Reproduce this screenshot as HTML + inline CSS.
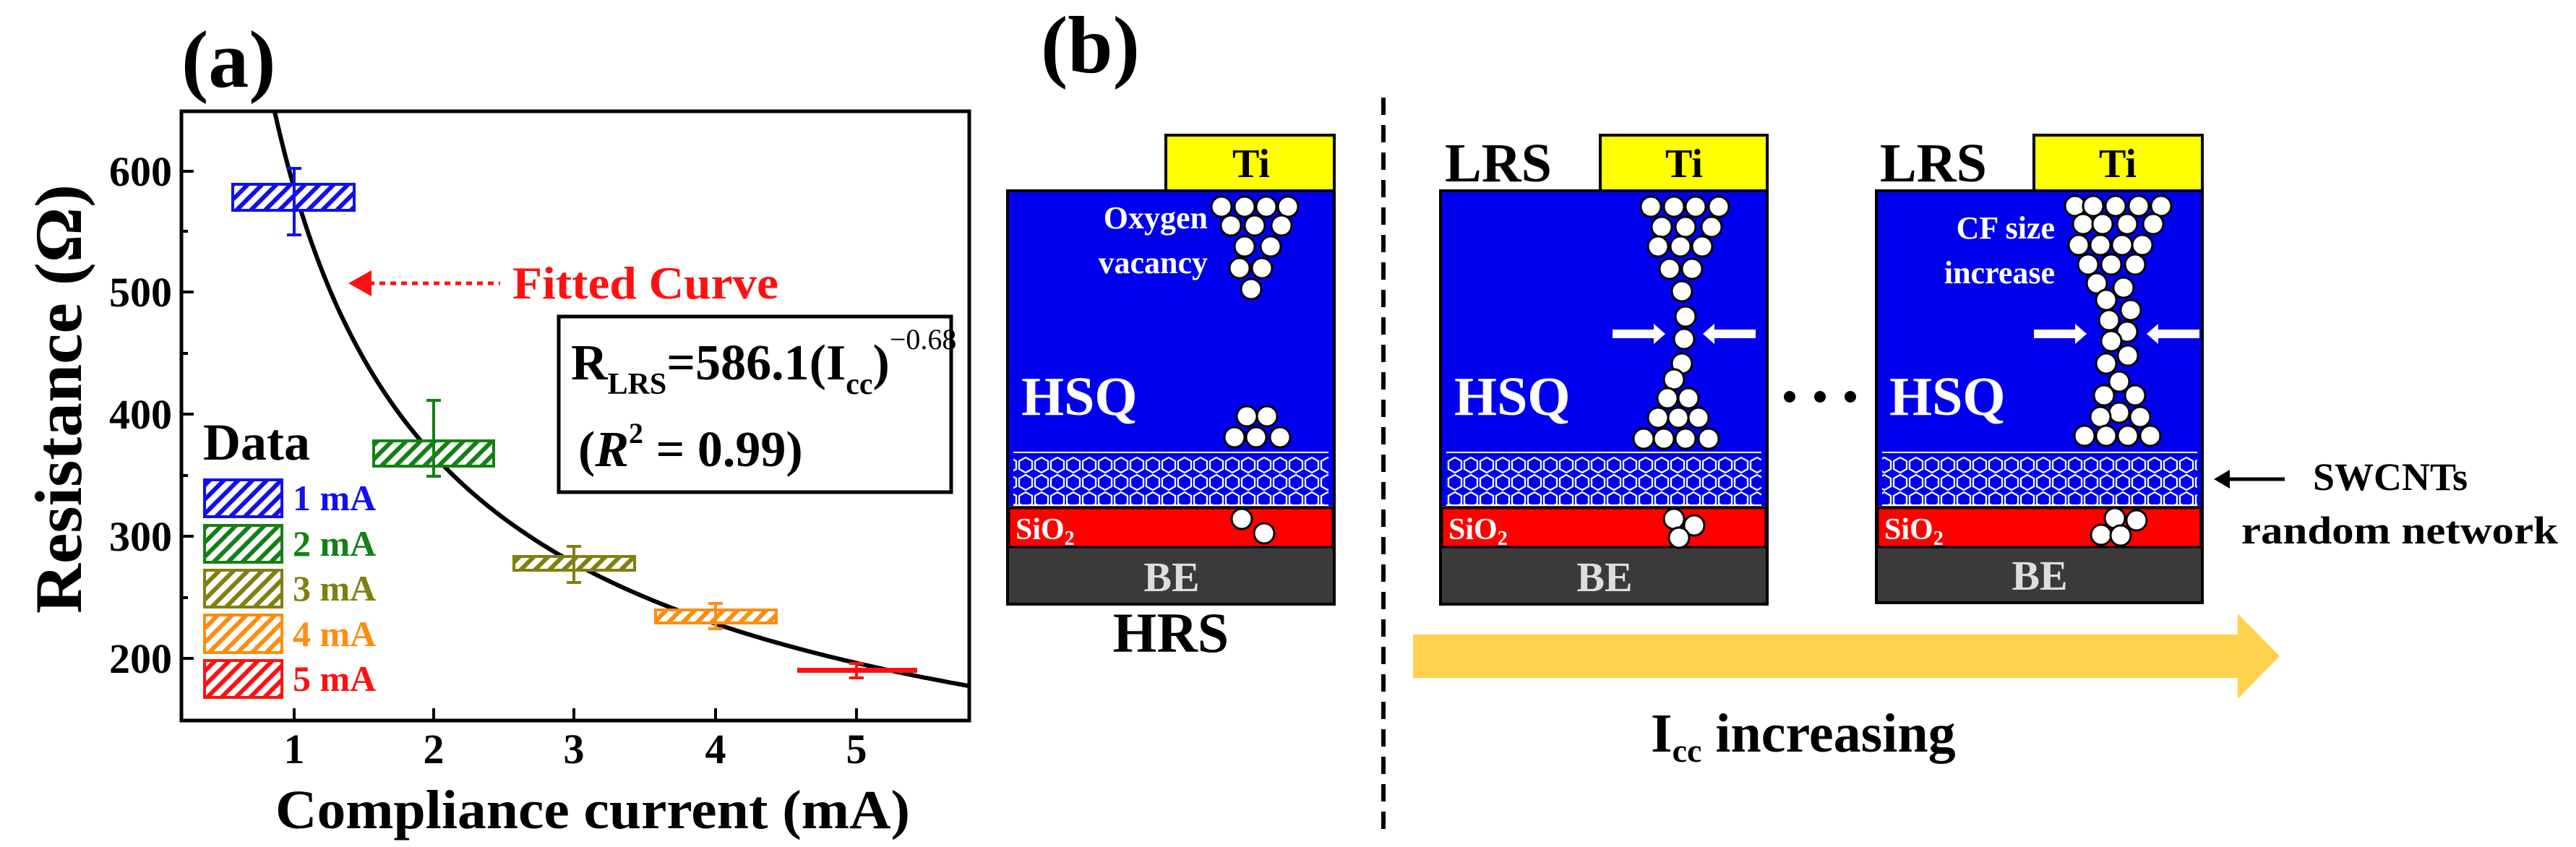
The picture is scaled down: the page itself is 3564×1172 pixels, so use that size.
<!DOCTYPE html>
<html><head><meta charset="utf-8"><style>
html,body{margin:0;padding:0;background:#fff;}
svg{display:block;font-family:"Liberation Serif",serif;font-weight:bold;}
</style></head><body>
<svg width="3564" height="1172" viewBox="0 0 3564 1172" xmlns="http://www.w3.org/2000/svg">
<defs>
<pattern id="hb" width="14" height="14" patternUnits="userSpaceOnUse" patternTransform="rotate(45)"><rect width="14" height="14" fill="#fff"/><rect width="6" height="14" fill="#1010ee"/></pattern>
<pattern id="hg" width="14" height="14" patternUnits="userSpaceOnUse" patternTransform="rotate(45)"><rect width="14" height="14" fill="#fff"/><rect width="6" height="14" fill="#148014"/></pattern>
<pattern id="ho" width="14" height="14" patternUnits="userSpaceOnUse" patternTransform="rotate(45)"><rect width="14" height="14" fill="#fff"/><rect width="6" height="14" fill="#808010"/></pattern>
<pattern id="hor" width="14" height="14" patternUnits="userSpaceOnUse" patternTransform="rotate(45)"><rect width="14" height="14" fill="#fff"/><rect width="6" height="14" fill="#ff8c10"/></pattern>
<pattern id="hr" width="14" height="14" patternUnits="userSpaceOnUse" patternTransform="rotate(45)"><rect width="14" height="14" fill="#fff"/><rect width="6" height="14" fill="#ff1010"/></pattern>
<pattern id="hex" width="22" height="24" patternUnits="userSpaceOnUse" x="0" y="632">
<rect width="22" height="24" fill="#0000ee"/>
<polygon points="11,1 20,6 20,17 11,22 2,17 2,6" fill="none" stroke="#fff" stroke-width="2.3"/>
</pattern>
<g id="circ"><circle r="14" fill="#fff" stroke="#000" stroke-width="3"/></g>
</defs>

<!-- ========== Panel (a) ========== -->
<text x="251" y="120" font-size="112">(a)</text>
<rect x="251" y="154" width="1090" height="843" fill="none" stroke="#000" stroke-width="5"/>
<g stroke="#000" stroke-width="4">
<line x1="251" y1="237" x2="268" y2="237"/><line x1="251" y1="404" x2="268" y2="404"/><line x1="251" y1="573" x2="268" y2="573"/><line x1="251" y1="742" x2="268" y2="742"/><line x1="251" y1="911" x2="268" y2="911"/>
<line x1="251" y1="320" x2="260" y2="320"/><line x1="251" y1="489" x2="260" y2="489"/><line x1="251" y1="658" x2="260" y2="658"/><line x1="251" y1="827" x2="260" y2="827"/>
<line x1="407" y1="997" x2="407" y2="980"/><line x1="600" y1="997" x2="600" y2="980"/><line x1="794" y1="997" x2="794" y2="980"/><line x1="990" y1="997" x2="990" y2="980"/><line x1="1185" y1="997" x2="1185" y2="980"/>
</g>
<g font-size="58" text-anchor="end">
<text x="238" y="257">600</text><text x="238" y="424">500</text><text x="238" y="593">400</text><text x="238" y="762">300</text><text x="238" y="931">200</text>
</g>
<g font-size="58" text-anchor="middle">
<text x="407" y="1056">1</text><text x="600" y="1056">2</text><text x="794" y="1056">3</text><text x="990" y="1056">4</text><text x="1185" y="1056">5</text>
</g>
<text x="381" y="1146" font-size="76" textLength="878" lengthAdjust="spacingAndGlyphs">Compliance current (mA)</text>
<text transform="translate(112,849) rotate(-90)" font-size="92" textLength="594" lengthAdjust="spacingAndGlyphs">Resistance (Ω)</text>

<path id="fit" fill="none" stroke="#000" stroke-width="6" d=""/>
<script>
(function(){var d="";for(var i=0;i<=200;i++){var v=0.86+(5.8-0.86)*i/200;var r=586.1*Math.pow(v,-0.68);var X=407+(v-1)*194.5;var Y=911-(r-200)*1.685;d+=(i?"L":"M")+X.toFixed(1)+","+Y.toFixed(1);}document.getElementById("fit").setAttribute("d",d);})();
</script>

<rect x="322" y="255" width="168" height="36" fill="url(#hb)" stroke="#1010ee" stroke-width="4"/>
<g stroke="#1010ee" stroke-width="4"><line x1="407" y1="233" x2="407" y2="325"/><line x1="397" y1="233" x2="417" y2="233"/><line x1="397" y1="325" x2="417" y2="325"/></g>
<rect x="517" y="610" width="166" height="35" fill="url(#hg)" stroke="#148014" stroke-width="4"/>
<g stroke="#148014" stroke-width="4"><line x1="600" y1="554" x2="600" y2="659"/><line x1="590" y1="554" x2="610" y2="554"/><line x1="590" y1="659" x2="610" y2="659"/></g>
<rect x="711" y="770" width="167" height="19" fill="url(#ho)" stroke="#808010" stroke-width="4"/>
<g stroke="#808010" stroke-width="4"><line x1="794" y1="756" x2="794" y2="806"/><line x1="784" y1="756" x2="804" y2="756"/><line x1="784" y1="806" x2="804" y2="806"/></g>
<rect x="907" y="844" width="167" height="18" fill="url(#hor)" stroke="#ff8c10" stroke-width="4"/>
<g stroke="#ff8c10" stroke-width="4"><line x1="990" y1="835" x2="990" y2="870"/><line x1="980" y1="835" x2="1000" y2="835"/><line x1="980" y1="870" x2="1000" y2="870"/></g>
<rect x="1103" y="924" width="166" height="7" fill="#ff1010"/>
<g stroke="#ff1010" stroke-width="4"><line x1="1185" y1="918" x2="1185" y2="938"/><line x1="1175" y1="918" x2="1195" y2="918"/><line x1="1175" y1="938" x2="1195" y2="938"/></g>

<text x="281" y="636" font-size="72">Data</text>
<rect x="283" y="664" width="107" height="51" fill="url(#hb)" stroke="#1010ee" stroke-width="4"/>
<rect x="283" y="727" width="107" height="51" fill="url(#hg)" stroke="#148014" stroke-width="4"/>
<rect x="283" y="789" width="107" height="51" fill="url(#ho)" stroke="#808010" stroke-width="4"/>
<rect x="283" y="851" width="107" height="52" fill="url(#hor)" stroke="#ff8c10" stroke-width="4"/>
<rect x="283" y="914" width="107" height="51" fill="url(#hr)" stroke="#ff1010" stroke-width="4"/>
<g font-size="50">
<text x="405" y="706" fill="#1010ee">1 mA</text>
<text x="405" y="769" fill="#148014">2 mA</text>
<text x="405" y="831" fill="#808010">3 mA</text>
<text x="405" y="894" fill="#ff8c10">4 mA</text>
<text x="405" y="956" fill="#ff1010">5 mA</text>
</g>

<line x1="510" y1="392" x2="692" y2="392" stroke="#ff1010" stroke-width="5" stroke-dasharray="8,7"/>
<polygon points="482,392 514,374 514,410" fill="#ff1010"/>
<text x="709" y="413" font-size="64" fill="#ff1010" textLength="368" lengthAdjust="spacingAndGlyphs">Fitted Curve</text>

<rect x="773" y="438" width="543" height="243" fill="#fff" stroke="#000" stroke-width="5"/>
<text x="790" y="525" font-size="70">R<tspan font-size="42" dy="20">LRS</tspan><tspan dy="-20">=586.1(I</tspan><tspan font-size="42" dy="20">cc</tspan><tspan dy="-20">)</tspan><tspan font-size="40" dy="-42" font-weight="normal">−0.68</tspan></text>
<text x="800" y="645" font-size="70">(<tspan font-style="italic">R</tspan><tspan font-size="40" dy="-32">2</tspan><tspan dy="32"> = 0.99)</tspan></text>

<!-- ========== Panel (b) ========== -->
<text x="1440" y="100" font-size="112">(b)</text>
<line x1="1914" y1="135" x2="1914" y2="1150" stroke="#000" stroke-width="6" stroke-dasharray="24,14"/>

<g>
<rect x="1613" y="187" width="233" height="77" fill="#ffff00" stroke="#000" stroke-width="4"/>
<text x="1731" y="245" font-size="56" text-anchor="middle">Ti</text>
<rect x="1394" y="264" width="452" height="572" fill="#3a3a3a" stroke="#000" stroke-width="4"/>
<rect x="1396" y="266" width="448" height="434" fill="#0000ee"/>
<rect x="1402" y="632" width="436" height="66" fill="url(#hex)"/>
<line x1="1402" y1="626" x2="1838" y2="626" stroke="#fff" stroke-width="2"/>
<line x1="1402" y1="699" x2="1838" y2="699" stroke="#fff" stroke-width="2"/>
<rect x="1396" y="703" width="448" height="54" fill="#ff0000" stroke="#000" stroke-width="3"/>
<text x="1621" y="818" font-size="58" text-anchor="middle" fill="#ddd">BE</text>
<text x="1405" y="746" font-size="42" fill="#fff">SiO<tspan font-size="28" dy="8">2</tspan></text>
<text x="1413" y="574" font-size="76" fill="#fff">HSQ</text>
<text x="1671" y="316" font-size="44" fill="#fff" text-anchor="end">Oxygen</text>
<text x="1671" y="378" font-size="44" fill="#fff" text-anchor="end">vacancy</text>
<g>
<use href="#circ" x="1690" y="286"/><use href="#circ" x="1722" y="286"/><use href="#circ" x="1752" y="286"/><use href="#circ" x="1782" y="286"/>
<use href="#circ" x="1703" y="312"/><use href="#circ" x="1736" y="312"/><use href="#circ" x="1773" y="312"/>
<use href="#circ" x="1722" y="341"/><use href="#circ" x="1758" y="341"/>
<use href="#circ" x="1715" y="371"/><use href="#circ" x="1746" y="371"/>
<use href="#circ" x="1731" y="400"/>
<use href="#circ" x="1725" y="576"/><use href="#circ" x="1753" y="576"/>
<use href="#circ" x="1708" y="605"/><use href="#circ" x="1738" y="605"/><use href="#circ" x="1771" y="605"/>
<use href="#circ" x="1718" y="718"/><use href="#circ" x="1749" y="738"/>
</g>
<text x="1620" y="902" font-size="78" text-anchor="middle">HRS</text>
</g>

<g>
<text x="1999" y="251" font-size="76">LRS</text>
<rect x="2214" y="187" width="231" height="77" fill="#ffff00" stroke="#000" stroke-width="4"/>
<text x="2330" y="245" font-size="56" text-anchor="middle">Ti</text>
<rect x="1993" y="264" width="452" height="572" fill="#3a3a3a" stroke="#000" stroke-width="4"/>
<rect x="1995" y="266" width="448" height="434" fill="#0000ee"/>
<rect x="2001" y="632" width="436" height="66" fill="url(#hex)"/>
<line x1="2001" y1="626" x2="2437" y2="626" stroke="#fff" stroke-width="2"/>
<line x1="2001" y1="699" x2="2437" y2="699" stroke="#fff" stroke-width="2"/>
<rect x="1995" y="703" width="448" height="54" fill="#ff0000" stroke="#000" stroke-width="3"/>
<text x="2220" y="818" font-size="58" text-anchor="middle" fill="#ddd">BE</text>
<text x="2004" y="746" font-size="42" fill="#fff">SiO<tspan font-size="28" dy="8">2</tspan></text>
<text x="2012" y="574" font-size="76" fill="#fff">HSQ</text>
<g>
<use href="#circ" x="2284" y="286"/><use href="#circ" x="2316" y="286"/><use href="#circ" x="2346" y="286"/><use href="#circ" x="2378" y="286"/>
<use href="#circ" x="2299" y="314"/><use href="#circ" x="2332" y="314"/><use href="#circ" x="2368" y="314"/>
<use href="#circ" x="2294" y="341"/><use href="#circ" x="2325" y="341"/><use href="#circ" x="2355" y="341"/>
<use href="#circ" x="2310" y="372"/><use href="#circ" x="2341" y="372"/>
<use href="#circ" x="2327" y="403"/>
<use href="#circ" x="2332" y="438"/>
<use href="#circ" x="2330" y="469"/>
<use href="#circ" x="2327" y="503"/>
<use href="#circ" x="2316" y="525"/>
<use href="#circ" x="2307" y="551"/><use href="#circ" x="2336" y="551"/>
<use href="#circ" x="2294" y="578"/><use href="#circ" x="2322" y="578"/><use href="#circ" x="2350" y="578"/>
<use href="#circ" x="2274" y="607"/><use href="#circ" x="2302" y="607"/><use href="#circ" x="2332" y="607"/><use href="#circ" x="2364" y="607"/>
<use href="#circ" x="2316" y="718"/><use href="#circ" x="2344" y="727"/><use href="#circ" x="2323" y="744"/>
</g>
<polygon points="2231,456 2288,456 2288,448 2304,462 2288,476 2288,468 2231,468" fill="#fff"/>
<polygon points="2429,456 2372,456 2372,448 2356,462 2372,476 2372,468 2429,468" fill="#fff"/>
</g>

<circle cx="2476" cy="549" r="8" fill="#000"/><circle cx="2518" cy="549" r="8" fill="#000"/><circle cx="2560" cy="549" r="8" fill="#000"/>

<g>
<text x="2601" y="251" font-size="76">LRS</text>
<rect x="2814" y="187" width="233" height="77" fill="#ffff00" stroke="#000" stroke-width="4"/>
<text x="2930" y="245" font-size="56" text-anchor="middle">Ti</text>
<rect x="2596" y="264" width="451" height="570" fill="#3a3a3a" stroke="#000" stroke-width="4"/>
<rect x="2598" y="266" width="447" height="434" fill="#0000ee"/>
<rect x="2604" y="632" width="436" height="66" fill="url(#hex)"/>
<line x1="2604" y1="626" x2="3040" y2="626" stroke="#fff" stroke-width="2"/>
<line x1="2604" y1="699" x2="3040" y2="699" stroke="#fff" stroke-width="2"/>
<rect x="2598" y="703" width="447" height="54" fill="#ff0000" stroke="#000" stroke-width="3"/>
<text x="2822" y="816" font-size="58" text-anchor="middle" fill="#ddd">BE</text>
<text x="2607" y="746" font-size="42" fill="#fff">SiO<tspan font-size="28" dy="8">2</tspan></text>
<text x="2614" y="574" font-size="76" fill="#fff">HSQ</text>
<text x="2843" y="330" font-size="44" fill="#fff" text-anchor="end">CF size</text>
<text x="2843" y="392" font-size="44" fill="#fff" text-anchor="end">increase</text>
<g>
<use href="#circ" x="2871" y="285"/><use href="#circ" x="2896" y="285"/><use href="#circ" x="2927" y="285"/><use href="#circ" x="2959" y="285"/><use href="#circ" x="2990" y="285"/>
<use href="#circ" x="2882" y="310"/><use href="#circ" x="2909" y="310"/><use href="#circ" x="2943" y="310"/><use href="#circ" x="2979" y="310"/>
<use href="#circ" x="2876" y="339"/><use href="#circ" x="2906" y="339"/><use href="#circ" x="2936" y="339"/><use href="#circ" x="2964" y="339"/>
<use href="#circ" x="2889" y="366"/><use href="#circ" x="2921" y="366"/><use href="#circ" x="2954" y="366"/>
<use href="#circ" x="2901" y="392"/><use href="#circ" x="2938" y="398"/>
<use href="#circ" x="2914" y="415"/><use href="#circ" x="2948" y="429"/>
<use href="#circ" x="2918" y="443"/><use href="#circ" x="2943" y="459"/>
<use href="#circ" x="2921" y="472"/>
<use href="#circ" x="2944" y="492"/><use href="#circ" x="2914" y="503"/>
<use href="#circ" x="2932" y="528"/>
<use href="#circ" x="2911" y="547"/><use href="#circ" x="2954" y="547"/>
<use href="#circ" x="2932" y="571"/><use href="#circ" x="2906" y="577"/><use href="#circ" x="2961" y="577"/>
<use href="#circ" x="2884" y="603"/><use href="#circ" x="2914" y="603"/><use href="#circ" x="2944" y="603"/><use href="#circ" x="2975" y="603"/>
<use href="#circ" x="2926" y="717"/><use href="#circ" x="2956" y="720"/><use href="#circ" x="2907" y="740"/><use href="#circ" x="2934" y="741"/>
</g>
<polygon points="2814,456 2871,456 2871,448 2887,462 2871,476 2871,468 2814,468" fill="#fff"/>
<polygon points="3043,456 2986,456 2986,448 2970,462 2986,476 2986,468 3043,468" fill="#fff"/>
</g>

<line x1="3078" y1="663" x2="3161" y2="663" stroke="#000" stroke-width="5"/>
<polygon points="3063,663 3085,650 3085,676" fill="#000"/>
<text x="3200" y="678" font-size="54">SWCNTs</text>
<text x="3101" y="752" font-size="54" textLength="438" lengthAdjust="spacingAndGlyphs">random network</text>

<polygon points="1955,878 3096,878 3096,849 3154,908 3096,967 3096,938 1955,938" fill="#ffd24d"/>
<text x="2284" y="1040" font-size="76">I<tspan font-size="46" dy="14">cc</tspan><tspan dy="-14"> increasing</tspan></text>
</svg>
</body></html>
